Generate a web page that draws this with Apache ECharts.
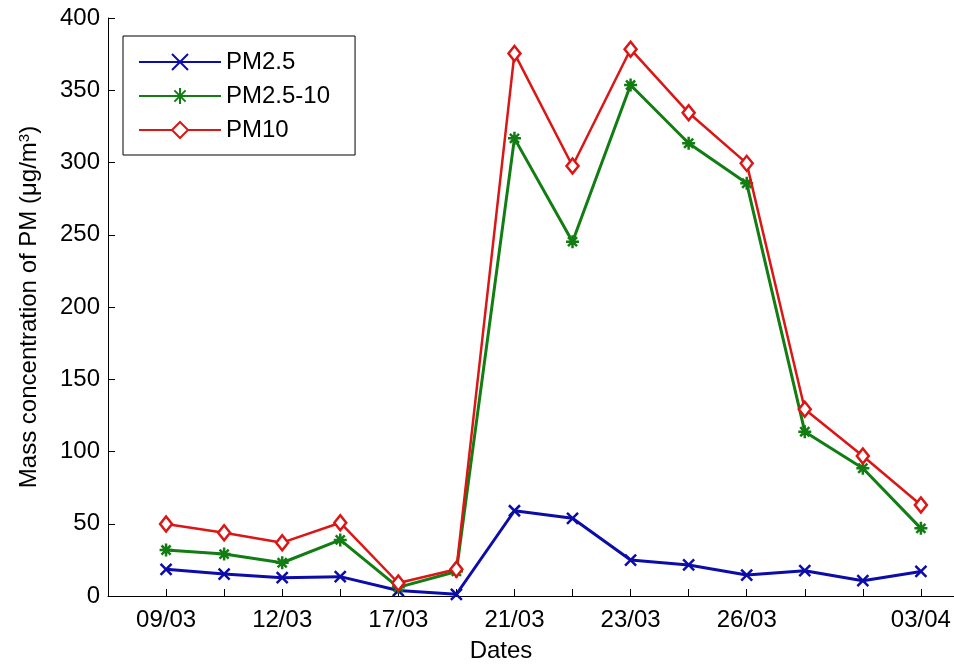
<!DOCTYPE html>
<html>
<head>
<meta charset="utf-8">
<script src="https://cdn.jsdelivr.net/npm/echarts@6/dist/echarts.min.js"></script>
<style>
  html, body { margin: 0; padding: 0; background: #fff; }
  #chart { width: 954px; height: 664px; }
</style>
</head>
<body>
<div id="chart"></div>
<script>
// 数据
var dates = ['09/03', '', '12/03', '', '17/03', '', '21/03', '', '23/03', '', '26/03', '', '', '03/04'];
var pm25 = [18.5, 15.2, 12.7, 13.4, 3.8, 1.2, 59, 53.8, 24.9, 21.5, 14.5, 17.5, 10.6, 17];
var pm2510 = [31.8, 29, 23, 38.8, 6, 17, 316.7, 245.2, 353.6, 313.3, 285.6, 113.7, 88.4, 46.8];
var pm10 = [49.8, 43.8, 36.9, 50.7, 9, 18.5, 375.5, 297.6, 378.4, 334.4, 299.4, 129.2, 96.9, 63];
var yTicks = [0, 50, 100, 150, 200, 250, 300, 350, 400];

var font = 'Liberation Sans, Arial, sans-serif';
var idx = dates.map(function(d, i){ return i; });

function pairs(arr){
	return arr.map(function(v, i){ return [i, v]; });
}

var myChart = echarts.init(document.getElementById('chart'));

var option = {
	backgroundColor: '#fff',
	animation: false,
	grid: {
		left: 108,
		top: 18,
		bottom: 68,
		right: 0,
		outerBoundsMode: 'none'
	},
	legend: {
		orient: 'vertical',
		left: 123,
		top: 36,
		padding: [14, 25, 13, 15],
		borderColor: '#000',
		borderWidth: 1,
		backgroundColor: '#fff',
		itemWidth: 82,
		itemHeight: 20,
		itemGap: 10,
		textStyle: { fontFamily: font, fontSize: 24, color: '#000', padding: [0, 0, 0, 0] },
		data: ['PM2.5', 'PM2.5-10', 'PM10']
	},
	xAxis: {
		type: 'value',
		min: -1,
		max: 13.57,
		name: 'Dates',
		nameLocation: 'middle',
		nameGap: 43,
		nameTextStyle: { fontFamily: font, fontSize: 24, color: '#000', padding: [0, 60, 0, 0] },
		splitLine: { show: false },
		axisLine: { onZero: false, lineStyle: { color: '#000', width: 1 } },
		axisTick: { inside: true, length: 7, lineStyle: { color: '#000' }, customValues: idx },
		axisLabel: {
			customValues: idx,
			fontFamily: font,
			fontSize: 24,
			color: '#000',
			margin: 12,
			formatter: function(v){ return dates[v] || ''; }
		}
	},
	yAxis: {
		type: 'value',
		min: 0,
		max: 400,
		interval: 50,
		name: 'Mass concentration of PM (μg/m{sup|3})',
		nameLocation: 'middle',
		nameGap: 67,
		nameTextStyle: {
			fontFamily: font, fontSize: 24, color: '#000',
			rich: { sup: { fontFamily: font, fontSize: 15, color: '#000', verticalAlign: 'top', lineHeight: 15 } }
		},
		splitLine: { show: false },
		axisLine: { show: true, onZero: false, lineStyle: { color: '#000', width: 1 } },
		axisTick: { show: true, inside: true, length: 7, lineStyle: { color: '#000' } },
		axisLabel: {
			fontFamily: font,
			fontSize: 24,
			color: '#000',
			margin: 8,
			formatter: function(v){ return yTicks.indexOf(v) >= 0 ? String(v) : ''; }
		}
	},
	series: [{
		name: 'PM2.5',
		type: 'line',
		data: pairs(pm25),
		symbol: 'path://M0,0L10,10M10,0L0,10',
		symbolSize: 11,
		lineStyle: { color: '#0c0caa', width: 3 },
		itemStyle: { color: 'none', borderColor: '#0c0caa', borderWidth: 2.5 },
		z: 2
	}, {
		name: 'PM2.5-10',
		type: 'line',
		data: pairs(pm2510),
		symbol: 'path://M5,0L5,10M0,5L10,5M1.5,1.5L8.5,8.5M8.5,1.5L1.5,8.5',
		symbolSize: 13,
		lineStyle: { color: '#127d12', width: 3 },
		itemStyle: { color: 'none', borderColor: '#127d12', borderWidth: 2.5 },
		z: 3
	}, {
		name: 'PM10',
		type: 'line',
		data: pairs(pm10),
		symbol: 'diamond',
		symbolSize: [12, 15],
		lineStyle: { color: '#dc1515', width: 2.5 },
		itemStyle: { color: '#fff', borderColor: '#dc1515', borderWidth: 2.5 },
		z: 4
	}]
};

myChart.setOption(option);
</script>
</body>
</html>
